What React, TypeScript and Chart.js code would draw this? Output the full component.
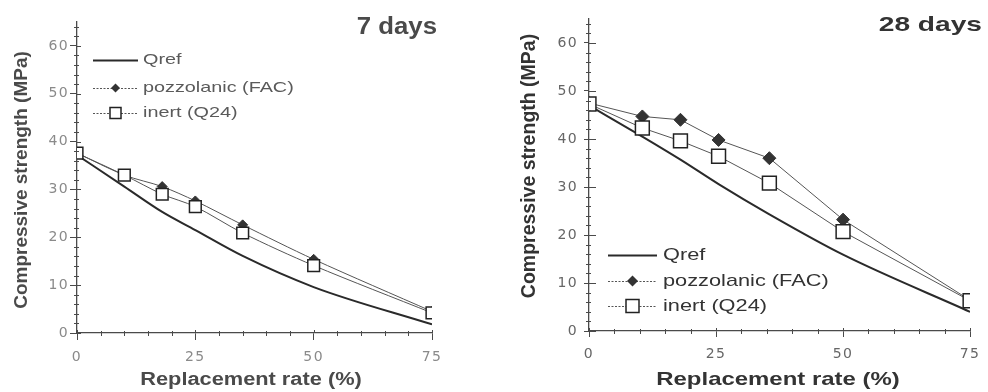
import React, { useEffect, useRef } from 'react';
import { Chart, registerables } from 'chart.js';

Chart.register(...registerables);

// ---------- data ----------
const seriesNames = ['Qref', 'pozzolanic (FAC)', 'inert (Q24)'];
const panelTitles = ['7 days', '28 days'];
const xAxisTitle = 'Replacement rate (%)';
const yAxisTitle = 'Compressive strength (MPa)';
const xTickValues = [0, 25, 50, 75];
const yTickValues = [0, 10, 20, 30, 40, 50, 60];

const rate7 = [0, 10, 18, 25, 35, 50, 75];
const qref7 = [37.2, 30.6, 25.3, 21.5, 16.1, 9.6, 1.8];
const pozz7 = [37.6, 33.0, 30.6, 27.6, 22.6, 15.4, 4.5];
const inert7 = [37.6, 33.0, 29.0, 26.4, 20.9, 14.1, 4.2];

const rate28 = [0, 10.5, 18, 25.5, 35.5, 50, 75];
const qref28 = [47.0, 40.5, 35.7, 30.6, 24.3, 15.9, 4.0];
const pozz28 = [47.5, 44.7, 44.0, 39.8, 36.0, 23.2, 6.4];
const inert28 = [47.3, 42.3, 39.6, 36.4, 30.8, 20.7, 6.3];

// ---------- styles ----------
const SANS = '"Liberation Sans", Arial, sans-serif';
const TICKFONT = '"DejaVu Sans", sans-serif';

type PanelCfg = {
  left: number;
  width: number;
  top: number;
  padR: number;
  yWidth: number;
  xHeight: number;
  title: string;
  rates: number[];
  qref: number[];
  pozz: number[];
  inert: number[];
  tension: number;
  tickFont: number;
  tickColor: string;
  tickSpacing: number;
  yTickPad: number;
  xTickPad: number;
  yTickOut: number;
  yTickIn: number;
  xTickOut: number;
  xTickIn: number;
  diamondR: number;
  squareR: number;
  textColor: string;
  yTitle: { x: number; y: number; size: number };
  xTitle: { x: number; y: number; size: number; sx: number };
  pTitle: { x: number; y: number; size: number; sx: number };
  legend: { x0: number; x1: number; tx: number; rows: number[]; size: number; sx: number; dR: number; sR: number; color: string };
};

const panels: PanelCfg[] = [
  {
    left: 0, width: 475, top: 22, padR: 43, yWidth: 77, xHeight: 59,
    title: panelTitles[0], rates: rate7, qref: qref7, pozz: pozz7, inert: inert7, tension: 0.3,
    tickFont: 14, tickColor: '#8a8a8a', tickSpacing: 1.4, yTickPad: 1, xTickPad: 9,
    yTickOut: 7, yTickIn: 4, xTickOut: 7, xTickIn: 3,
    diamondR: 5, squareR: 8.3, textColor: '#4a4a4a',
    yTitle: { x: 22, y: 180, size: 19 },
    xTitle: { x: 251, y: 380, size: 18, sx: 1.21 },
    pTitle: { x: 437, y: 28, size: 23, sx: 1.12 },
    legend: { x0: 93, x1: 138, tx: 143, rows: [60, 88, 113], size: 15, sx: 1.32, dR: 4.5, sR: 5.5, color: '#5a5a5a' },
  },
  {
    left: 490, width: 498, top: 19, padR: 11, yWidth: 99, xHeight: 61,
    title: panelTitles[1], rates: rate28, qref: qref28, pozz: pozz28, inert: inert28, tension: 0,
    tickFont: 14, tickColor: '#666666', tickSpacing: 1.4, yTickPad: 6, xTickPad: 9,
    yTickOut: 5, yTickIn: 7, xTickOut: 6, xTickIn: 3,
    diamondR: 6.5, squareR: 9.8, textColor: '#333333',
    yTitle: { x: 40, y: 166, size: 19.5 },
    xTitle: { x: 288, y: 380, size: 19, sx: 1.26 },
    pTitle: { x: 492, y: 25, size: 21, sx: 1.34 },
    legend: { x0: 118, x1: 167, tx: 173, rows: [255, 281, 306], size: 17, sx: 1.28, dR: 5.5, sR: 6.5, color: '#333333' },
  },
];

const AXIS = '#4a4a4a';

function drawText(
  ctx: CanvasRenderingContext2D, text: string, x: number, y: number,
  font: string, color: string, align: CanvasTextAlign, sx: number, rot = 0,
) {
  ctx.save();
  ctx.font = font;
  ctx.fillStyle = color;
  ctx.textAlign = align;
  ctx.textBaseline = 'middle';
  ctx.translate(x, y);
  if (rot) ctx.rotate(rot);
  ctx.scale(sx, 1);
  ctx.fillText(text, 0, 0);
  ctx.restore();
}

function diamond(ctx: CanvasRenderingContext2D, x: number, y: number, r: number, fill: string) {
  ctx.beginPath();
  ctx.moveTo(x, y - r);
  ctx.lineTo(x + r, y);
  ctx.lineTo(x, y + r);
  ctx.lineTo(x - r, y);
  ctx.closePath();
  ctx.fillStyle = fill;
  ctx.fill();
}

function square(ctx: CanvasRenderingContext2D, x: number, y: number, h: number) {
  ctx.fillStyle = '#ffffff';
  ctx.fillRect(x - h, y - h, 2 * h, 2 * h);
  ctx.strokeStyle = '#222';
  ctx.lineWidth = 1.5;
  ctx.strokeRect(x - h, y - h, 2 * h, 2 * h);
}

function makePlugin(cfg: PanelCfg) {
  return {
    id: 'panelDecor',
    beforeDraw(chart: any) {
      (chart.ctx as any).letterSpacing = cfg.tickSpacing + 'px';
    },
    afterDraw(chart: any) {
      const ctx: CanvasRenderingContext2D = chart.ctx;
      (ctx as any).letterSpacing = '0px';
      const xs = chart.scales.x;
      const ys = chart.scales.y;
      const ca = chart.chartArea;
      ctx.save();
      ctx.strokeStyle = AXIS;
      ctx.lineWidth = 1;
      // y minor + inward major ticks
      for (let v = 0; v <= 64; v += 2) {
        const py = Math.round(ys.getPixelForValue(v)) + 0.5;
        const major = v % 10 === 0;
        ctx.beginPath();
        if (major) {
          ctx.moveTo(ca.left, py);
          ctx.lineTo(ca.left + cfg.yTickIn, py);
        } else {
          ctx.moveTo(ca.left - 3, py);
          ctx.lineTo(ca.left + 2, py);
        }
        ctx.stroke();
      }
      // x minor + inward major ticks
      for (let v = 0; v <= 75; v += 5) {
        const px = Math.round(xs.getPixelForValue(v)) + 0.5;
        const major = v % 25 === 0;
        ctx.beginPath();
        if (major) {
          ctx.moveTo(px, ca.bottom);
          ctx.lineTo(px, ca.bottom - cfg.xTickIn);
        } else {
          ctx.moveTo(px, ca.bottom + 3);
          ctx.lineTo(px, ca.bottom - 2);
        }
        ctx.stroke();
      }
      ctx.restore();

      // axis titles
      drawText(ctx, yAxisTitle, cfg.yTitle.x, cfg.yTitle.y, `bold ${cfg.yTitle.size}px ${SANS}`, cfg.textColor, 'center', 1, -Math.PI / 2);
      drawText(ctx, xAxisTitle, cfg.xTitle.x, cfg.xTitle.y, `bold ${cfg.xTitle.size}px ${SANS}`, cfg.textColor, 'center', cfg.xTitle.sx);
      // panel title
      drawText(ctx, cfg.title, cfg.pTitle.x, cfg.pTitle.y, `bold ${cfg.pTitle.size}px ${SANS}`, cfg.textColor, 'right', cfg.pTitle.sx);

      // legend
      const lg = cfg.legend;
      const mid = (lg.x0 + lg.x1) / 2;
      lg.rows.forEach((ry, i) => {
        ctx.save();
        ctx.beginPath();
        ctx.moveTo(lg.x0, ry + 0.5);
        ctx.lineTo(lg.x1, ry + 0.5);
        if (i === 0) {
          ctx.strokeStyle = '#2a2a2a';
          ctx.lineWidth = 2;
        } else {
          ctx.strokeStyle = '#555';
          ctx.lineWidth = 1;
          ctx.setLineDash([2, 1.5]);
        }
        ctx.stroke();
        ctx.setLineDash([]);
        if (i === 1) diamond(ctx, mid, ry, lg.dR, '#333');
        if (i === 2) square(ctx, mid, ry, lg.sR);
        ctx.restore();
        drawText(ctx, seriesNames[i], lg.tx, ry, `${lg.size}px ${SANS}`, lg.color, 'left', lg.sx);
      });
    },
  };
}

function buildConfig(cfg: PanelCfg): any {
  const pts = (ys: number[]) => cfg.rates.map((x, i) => ({ x, y: ys[i] }));
  const tickFontObj = () => ({ family: TICKFONT, size: cfg.tickFont, weight: 'normal', lineHeight: 1.2 });
  return {
    type: 'line',
    data: {
      datasets: [
        {
          label: seriesNames[0], data: pts(cfg.qref), order: 2,
          borderColor: '#2a2a2a', borderWidth: 2, pointRadius: 0,
          cubicInterpolationMode: 'monotone', fill: false,
        },
        {
          label: seriesNames[1], data: pts(cfg.pozz), order: 1,
          borderColor: '#555555', borderWidth: 1, tension: cfg.tension,
          pointStyle: 'rectRot', pointRadius: cfg.diamondR,
          pointBackgroundColor: '#333', pointBorderColor: '#333', pointBorderWidth: 1, fill: false,
        },
        {
          label: seriesNames[2], data: pts(cfg.inert), order: 0,
          borderColor: '#555555', borderWidth: 1, tension: cfg.tension,
          pointStyle: 'rect', pointRadius: cfg.squareR,
          pointBackgroundColor: '#ffffff', pointBorderColor: '#222', pointBorderWidth: 1.5, fill: false,
        },
      ],
    },
    options: {
      animation: false,
      responsive: false,
      maintainAspectRatio: false,
      devicePixelRatio: 1,
      layout: { padding: { left: 0, right: cfg.padR, top: cfg.top, bottom: 0 } },
      plugins: { legend: { display: false }, tooltip: { enabled: false }, title: { display: false } },
      scales: {
        x: {
          type: 'linear', min: 0, max: 75,
          afterBuildTicks: (s: any) => { s.ticks = xTickValues.map((v) => ({ value: v })); },
          afterFit: (s: any) => { s.height = cfg.xHeight; },
          ticks: {
            autoSkip: false, maxRotation: 0, minRotation: 0, padding: cfg.xTickPad,
            color: cfg.tickColor, font: tickFontObj(),
          },
          grid: { drawOnChartArea: false, drawTicks: true, tickLength: cfg.xTickOut, tickColor: AXIS, tickWidth: 1 },
          border: { display: true, color: AXIS, width: 1.3 },
        },
        y: {
          type: 'linear', min: 0, max: 65,
          afterBuildTicks: (s: any) => { s.ticks = yTickValues.map((v) => ({ value: v })); },
          afterFit: (s: any) => { s.width = cfg.yWidth; },
          ticks: {
            padding: cfg.yTickPad,
            color: cfg.tickColor, font: tickFontObj(),
          },
          grid: { drawOnChartArea: false, drawTicks: true, tickLength: cfg.yTickOut, tickColor: AXIS, tickWidth: 1 },
          border: { display: true, color: AXIS, width: 1.3 },
        },
      },
    },
    plugins: [makePlugin(cfg)],
  };
}

function Panel({ cfg }: { cfg: PanelCfg }) {
  const ref = useRef<HTMLCanvasElement>(null);
  useEffect(() => {
    const chart = new Chart(ref.current as HTMLCanvasElement, buildConfig(cfg));
    return () => chart.destroy();
  }, [cfg]);
  return (
    <div style={{ position: 'absolute', left: cfg.left, top: 0, width: cfg.width, height: 392 }}>
      <canvas ref={ref} width={cfg.width} height={392} style={{ width: cfg.width, height: 392, display: 'block' }} />
    </div>
  );
}

export default function App() {
  return (
    <div style={{ position: 'absolute', left: 0, top: 0, width: 988, height: 392, background: '#ffffff', overflow: 'hidden' }}>
      {panels.map((p, i) => (
        <Panel key={i} cfg={p} />
      ))}
    </div>
  );
}
